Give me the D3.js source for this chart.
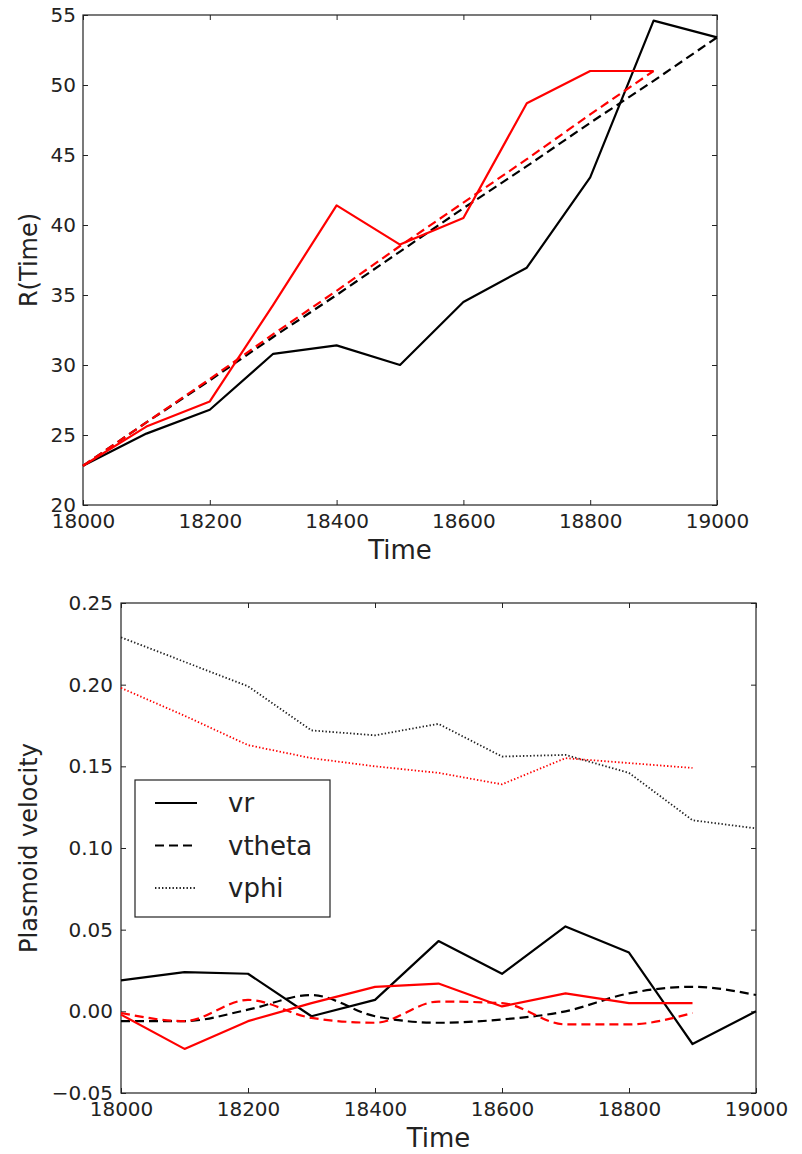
<!DOCTYPE html>
<html>
<head>
<meta charset="utf-8">
<script src="https://cdn.jsdelivr.net/npm/d3@7"></script>
<style>
  body { margin: 0; background: #fff; }
  text { font-family: "DejaVu Sans", sans-serif; fill: #222; }
</style>
</head>
<body>
<div id="chart"></div>
<script>
// time axis (both panels)
const times = [18000, 18100, 18200, 18300, 18400, 18500, 18600, 18700, 18800, 18900, 19000];
const xTicks = [18000, 18200, 18400, 18600, 18800, 19000];

// top panel: R(Time)
const rBlack = [22.8, 25.1, 26.8, 30.8, 31.4, 30.0, 34.5, 36.95, 43.4, 54.6, 53.4];
const rBlackFit = [22.8, 25.9, 28.9, 32.0, 35.0, 38.1, 41.2, 44.2, 47.3, 50.3, 53.4];
const rRed = [22.8, 25.6, 27.4, 34.3, 41.4, 38.6, 40.5, 48.7, 51.0, 51.0];
const rRedFit = [22.8, 25.9, 29.0, 32.2, 35.3, 38.5, 41.6, 44.7, 47.9, 51.0];
const rTicks = [20, 25, 30, 35, 40, 45, 50, 55];

// bottom panel: plasmoid velocity
const vrBlack = [0.019, 0.024, 0.023, -0.003, 0.007, 0.043, 0.023, 0.052, 0.036, -0.020, 0.000];
const vthetaBlack = [-0.006, -0.006, 0.001, 0.010, -0.003, -0.007, -0.005, 0.000, 0.011, 0.015, 0.010];
const vphiBlack = [0.229, 0.214, 0.199, 0.172, 0.169, 0.176, 0.156, 0.157, 0.146, 0.117, 0.112];
const vrRed = [-0.002, -0.023, -0.006, 0.005, 0.015, 0.017, 0.003, 0.011, 0.005, 0.005];
const vthetaRed = [-0.001, -0.006, 0.007, -0.004, -0.007, 0.006, 0.005, -0.008, -0.008, -0.001];
const vphiRed = [0.198, 0.181, 0.163, 0.155, 0.150, 0.146, 0.139, 0.155, 0.152, 0.149];
const vTicks = [-0.05, 0, 0.05, 0.10, 0.15, 0.20, 0.25];

const DASH = '9,5', DOT = '1.4,2.1';
const legendItems = [
  {label: 'vr', dash: null, width: 2.2},
  {label: 'vtheta', dash: DASH, width: 2.2},
  {label: 'vphi', dash: DOT, width: 1.8}
];

const width = 802, height = 1154;
const svg = d3.select('#chart').append('svg')
  .attr('width', width)
  .attr('height', height);

function panel(box, yDomain, yTicks, yFmt, yPad, yLabel) {
  const x = d3.scaleLinear().domain([18000, 19000]).range([box.left, box.right]);
  const y = d3.scaleLinear().domain(yDomain).range([box.bottom, box.top]);
  const g = svg.append('g');

  g.append('rect')
    .attr('x', box.left).attr('y', box.top)
    .attr('width', box.right - box.left).attr('height', box.bottom - box.top)
    .attr('fill', 'none').attr('stroke', '#222').attr('stroke-width', 1.2);

  const axes = [
    [d3.axisBottom(x).tickValues(xTicks).tickFormat(d3.format('d')).tickPadding(9), `translate(0,${box.bottom})`],
    [d3.axisTop(x).tickValues(xTicks).tickFormat(''), `translate(0,${box.top})`],
    [d3.axisLeft(y).tickValues(yTicks).tickFormat(yFmt).tickPadding(yPad), `translate(${box.left},0)`],
    [d3.axisRight(y).tickValues(yTicks).tickFormat(''), `translate(${box.right},0)`]
  ];
  axes.forEach(([ax, tr]) => {
    const a = g.append('g').attr('transform', tr)
      .call(ax.tickSizeInner(-5).tickSizeOuter(0));
    a.select('.domain').remove();
    a.selectAll('line').attr('stroke', '#222');
    a.selectAll('text').attr('font-size', 20).attr('fill', '#222')
      .style('font-family', '"DejaVu Sans", sans-serif');
  });

  g.append('text')
    .attr('x', (box.left + box.right) / 2)
    .attr('y', box.bottom + 54)
    .attr('text-anchor', 'middle')
    .attr('font-size', 26)
    .text('Time');

  g.append('text')
    .attr('transform', `translate(37,${(box.top + box.bottom) / 2}) rotate(-90)`)
    .attr('text-anchor', 'middle')
    .attr('font-size', 24)
    .text(yLabel);

  return {x, y, g};
}

function drawLine(p, values, color, dash, lw, curve) {
  const line = d3.line()
    .x((d, i) => p.x(times[i]))
    .y(d => p.y(d))
    .curve(curve || d3.curveLinear);
  p.g.append('path')
    .datum(values)
    .attr('d', line)
    .attr('fill', 'none')
    .attr('stroke', color)
    .attr('stroke-width', lw)
    .attr('stroke-dasharray', dash)
    .attr('stroke-linejoin', 'round');
}

// ---- top panel
const topPanel = panel({left: 83, right: 717, top: 15, bottom: 505}, [20, 55], rTicks,
  d3.format('d'), 7, 'R(Time)');
drawLine(topPanel, rBlack, '#000', null, 2.2);
drawLine(topPanel, rBlackFit, '#000', DASH, 2.2);
drawLine(topPanel, rRed, '#ff0000', null, 2.2);
drawLine(topPanel, rRedFit, '#ff0000', DASH, 2.2);

// ---- bottom panel
const fmtV = d => d3.format('.2f')(d).replace('-', '\u2212');
const botPanel = panel({left: 121, right: 756, top: 603, bottom: 1093}, [-0.05, 0.25], vTicks,
  fmtV, 8, 'Plasmoid velocity');
drawLine(botPanel, vrBlack, '#000', null, 2.2);
drawLine(botPanel, vthetaBlack, '#000', DASH, 2.2, d3.curveMonotoneX);
drawLine(botPanel, vphiBlack, '#222', DOT, 1.8);
drawLine(botPanel, vrRed, '#ff0000', null, 2.2);
drawLine(botPanel, vthetaRed, '#ff0000', DASH, 2.2, d3.curveMonotoneX);
drawLine(botPanel, vphiRed, '#ff0000', DOT, 1.8);

// legend
const lg = botPanel.g.append('g').attr('transform', 'translate(135,780)');
lg.append('rect')
  .attr('width', 195).attr('height', 137)
  .attr('fill', '#fff').attr('stroke', '#222').attr('stroke-width', 1.2);
const rowY = d3.scalePoint().domain(legendItems.map(d => d.label)).range([23, 108]);
legendItems.forEach(d => {
  lg.append('line')
    .attr('x1', 20).attr('x2', 62)
    .attr('y1', rowY(d.label)).attr('y2', rowY(d.label))
    .attr('stroke', d.label === 'vphi' ? '#222' : '#000')
    .attr('stroke-width', d.width)
    .attr('stroke-dasharray', d.dash);
  lg.append('text')
    .attr('x', 93).attr('y', rowY(d.label))
    .attr('dy', '0.35em')
    .attr('font-size', 26)
    .text(d.label);
});
</script>
</body>
</html>
